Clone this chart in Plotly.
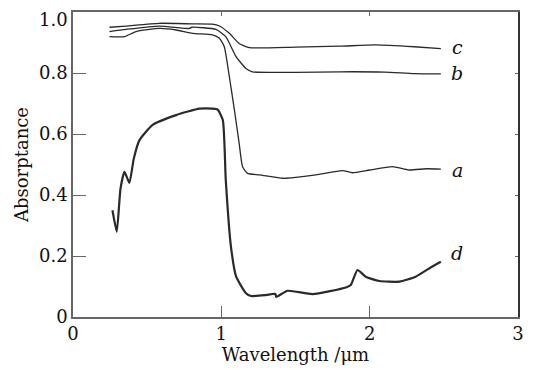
import plotly.graph_objects as go

# Curve a
a_x = [0.246, 0.347, 0.425, 0.582, 0.695, 0.807, 0.94, 0.987, 1.02, 1.054, 1.088, 1.12, 1.143, 1.177,
       1.256, 1.413, 1.436, 1.638, 1.817, 1.884, 2.0, 2.153, 2.266, 2.38, 2.48]
a_y = [0.919, 0.919, 0.936, 0.946, 0.941, 0.93, 0.925, 0.914, 0.886, 0.788, 0.679, 0.57, 0.493, 0.471,
       0.466, 0.455, 0.455, 0.466, 0.48, 0.473, 0.482, 0.493, 0.482, 0.486, 0.485]
# Curve b
b_x = [0.246, 0.358, 0.582, 0.785, 0.80, 0.964, 1.03, 1.10, 1.166, 1.21, 1.5, 1.8, 2.1, 2.3, 2.48]
b_y = [0.936, 0.943, 0.954, 0.946, 0.95, 0.943, 0.919, 0.853, 0.815, 0.804, 0.802, 0.804, 0.803, 0.798, 0.797]
# Curve c
c_x = [0.246, 0.358, 0.582, 0.807, 0.94, 0.987, 1.054, 1.12, 1.19, 1.5, 1.8, 2.04, 2.3, 2.48]
c_y = [0.95, 0.954, 0.963, 0.961, 0.96, 0.954, 0.93, 0.897, 0.883, 0.885, 0.888, 0.892, 0.886, 0.88]
# Curve d
d_x = [0.266, 0.295, 0.32, 0.347, 0.38, 0.41, 0.448, 0.537, 0.695, 0.852, 0.94, 0.975, 1.01, 1.03,
       1.065, 1.10, 1.166, 1.2, 1.3, 1.364, 1.37, 1.447, 1.615, 1.84, 1.873, 1.918, 1.974, 2.064,
       2.2, 2.31, 2.42, 2.48]
d_y = [0.35, 0.28, 0.42, 0.476, 0.44, 0.52, 0.58, 0.63, 0.662, 0.683, 0.683, 0.68, 0.646, 0.449,
       0.23, 0.132, 0.078, 0.069, 0.072, 0.076, 0.066, 0.086, 0.075, 0.097, 0.105, 0.154, 0.132, 0.118,
       0.116, 0.132, 0.165, 0.181]

labels = ["c", "b", "a", "d"]
label_y = [0.885, 0.80, 0.481, 0.21]
label_x = 2.59

x_ticks = [0, 1, 2, 3]
y_ticks = [0, 0.2, 0.4, 0.6, 0.8, 1.0]
y_tick_text = ["0", "0.2", "0.4", "0.6", "0.8", ""]
top_tick_text = "1.0"

FONT = "DejaVu Serif, serif"
LC = "#2a2a2a"

fig = go.Figure()
for xs, ys, w in [(a_x, a_y, 1.3), (b_x, b_y, 1.3), (c_x, c_y, 1.3), (d_x, d_y, 2.2)]:
    fig.add_trace(go.Scatter(x=xs, y=ys, mode="lines", line=dict(color=LC, width=w, shape="spline", smoothing=0.5),
                             showlegend=False, hoverinfo="skip"))

for t, yy in zip(labels, label_y):
    fig.add_annotation(x=label_x, y=yy, text="<i>%s</i>" % t, showarrow=False,
                       font=dict(family=FONT, size=19, color="#111"), xanchor="center", yanchor="middle")

axis_font = dict(family=FONT, size=18, color="#111")

# top y tick label (placed as annotation so it stays inside the page)
fig.add_annotation(xref="paper", x=0, y=y_ticks[-1], yref="y", text=top_tick_text, showarrow=False,
                   xanchor="right", yanchor="top", xshift=-4, yshift=4, borderpad=0, font=axis_font)

# invisible trace for secondary axes
fig.add_trace(go.Scatter(x=[0], y=[0], xaxis="x2", yaxis="y2", mode="markers",
                         marker=dict(opacity=0), showlegend=False, hoverinfo="skip"))

fig.update_layout(
    width=526, height=362,
    margin=dict(l=65, r=16, t=4, b=53, autoexpand=False),
    paper_bgcolor="white", plot_bgcolor="white",
    xaxis=dict(range=[0, 3], tickvals=x_ticks, ticks="inside", ticklen=11, tickwidth=1.2, tickcolor="#666",
               showline=True, linecolor="#666", linewidth=1.5, showgrid=False, zeroline=False,
               tickfont=axis_font, automargin=False,
               title=dict(text="Wavelength /μm", font=axis_font, standoff=1)),
    yaxis=dict(range=[0, 1.0], tickvals=y_ticks, ticktext=y_tick_text, ticks="inside", ticklen=13,
               tickwidth=1.2, tickcolor="#666", automargin=False,
               showline=True, linecolor="#666", linewidth=1.5, showgrid=False, zeroline=False,
               tickfont=axis_font,
               title=dict(text="Absorptance", font=axis_font, standoff=6)),
    xaxis2=dict(range=[0, 3], overlaying="x", side="top", tickvals=x_ticks, ticks="inside", ticklen=4,
                tickcolor="#666", showticklabels=False, showline=True, linecolor="#666", linewidth=1.5,
                showgrid=False, zeroline=False, automargin=False),
    yaxis2=dict(range=[0, 1.0], overlaying="y", side="right", tickvals=y_ticks, ticks="inside", ticklen=3,
                tickcolor="#666", showticklabels=False, showline=True, linecolor="#333", linewidth=1.5,
                showgrid=False, zeroline=False, automargin=False),
)

fig.write_html("out.html")
